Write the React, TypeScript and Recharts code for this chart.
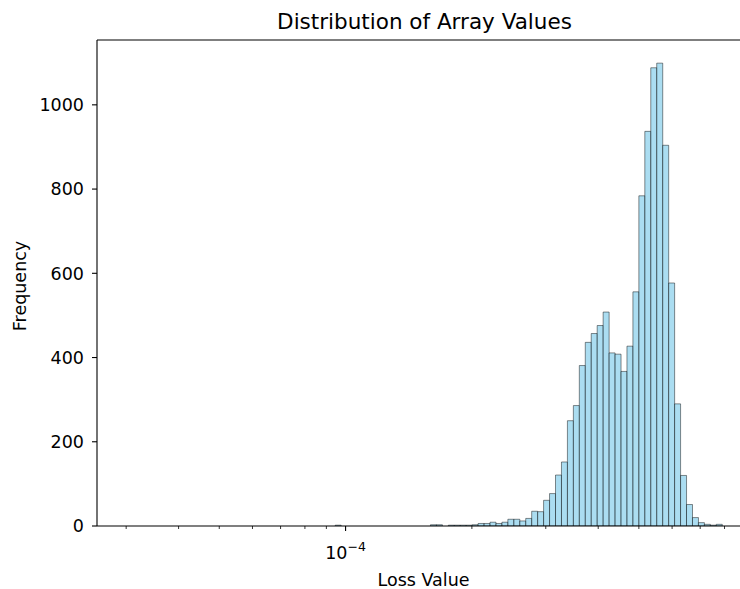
import React from "react";
import { BarChart, Bar, XAxis, YAxis, ReferenceLine } from "recharts";

// histogram counts, 100 log-spaced bins
const COUNTS = [
  0, 0, 0, 0, 0, 0, 0, 0, 0, 0,
  0, 0, 0, 0, 0, 0, 0, 0, 0, 0,
  0, 0, 0, 0, 0, 0, 0, 0, 0, 0,
  0, 0, 0, 0, 0, 2, 0, 0, 0, 0,
  0, 0, 0, 0, 0, 0, 0, 0, 0, 0,
  0, 3, 3, 0, 2, 2, 2, 2, 3, 6,
  6, 9, 6, 9, 16, 16, 12, 18, 35, 34,
  61, 77, 121, 152, 250, 286, 381, 436, 457, 476,
  508, 411, 408, 367, 427, 556, 784, 937, 1088, 1099,
  904, 577, 290, 120, 51, 20, 8, 4, 2, 4,
];
const BIN_LO = 3.01e-5;
const BIN_HI = 7.9e-4;

const X_TICKS = [3e-5, 4e-5, 5e-5, 6e-5, 7e-5, 8e-5, 9e-5, 1e-4, 2e-4, 3e-4, 4e-4, 5e-4, 6e-4, 7e-4, 8e-4];
const MAJOR_TICKS = [1e-4];
const Y_TICKS = [0, 200, 400, 600, 800, 1000];

const FONT = "DejaVu Sans, sans-serif";
const FS = 17.5;

const logLo = Math.log10(BIN_LO);
const logHi = Math.log10(BIN_HI);
const step = (logHi - logLo) / COUNTS.length;
const data = COUNTS.map((count, i) => ({ lx: logLo + (i + 0.5) * step, count }));
const pad = 0.05 * (logHi - logLo);
const yMax = Math.max(...COUNTS) * 1.05;

const XTick = (props: any) => {
  const { x, y, payload } = props;
  const v = payload.value;
  const major = MAJOR_TICKS.some((m) => Math.abs(Math.log10(m) - v) < 1e-6);
  return (
    <g>
      <line
        x1={x}
        x2={x}
        y1={y}
        y2={y + (major ? 5 : 3)}
        stroke="#000"
        strokeWidth={major ? 1.1 : 0.8}
      />
      {major && (
        <text x={x} y={y + 33} textAnchor="middle" fontFamily={FONT} fontSize={FS} fill="#000">
          <tspan>10</tspan>
          <tspan dy={-8} fontSize={12.5}>−{Math.abs(Math.round(v))}</tspan>
        </text>
      )}
    </g>
  );
};

export default function App() {
  return (
    <div style={{ position: "fixed", left: 0, top: 0, width: 740, height: 589, overflow: "hidden", background: "#fff" }}>
      <BarChart
        width={768}
        height={589}
        data={data}
        margin={{ top: 40, right: 16, bottom: 0, left: 0 }}
        barCategoryGap={0}
        barGap={0}
      >
        <text x={424.5} y={29} textAnchor="middle" fontFamily={FONT} fontSize={21.5} fill="#000">
          Distribution of Array Values
        </text>
        <XAxis
          type="number"
          dataKey="lx"
          domain={[logLo - pad, logHi + pad]}
          allowDataOverflow
          ticks={X_TICKS.map((t) => Math.log10(t))}
          interval={0}
          tickLine={false}
          tickSize={0}
          tickMargin={0}
          tick={<XTick />}
          height={63}
          axisLine={{ stroke: "#000", strokeWidth: 1.1 }}
          label={{
            content: () => (
              <text x={423.5} y={586} textAnchor="middle" fontFamily={FONT} fontSize={FS} fill="#000">
                Loss Value
              </text>
            ),
          }}
        />
        <YAxis
          type="number"
          domain={[0, yMax]}
          allowDataOverflow
          ticks={Y_TICKS}
          interval={0}
          width={97}
          tickSize={5}
          tickMargin={8}
          tickLine={{ stroke: "#000", strokeWidth: 1.1 }}
          axisLine={{ stroke: "#000", strokeWidth: 1.1 }}
          tick={{ fill: "#000", fontSize: FS, fontFamily: FONT }}
          label={{
            content: () => (
              <text
                x={25.5}
                y={286}
                transform="rotate(-90 25.5 286)"
                textAnchor="middle"
                fontFamily={FONT}
                fontSize={FS}
                fill="#000"
              >
                Frequency
              </text>
            ),
          }}
        />
        <ReferenceLine y={yMax} stroke="#000" strokeWidth={1.1} />
        <Bar
          dataKey="count"
          fill="#87CEEB"
          fillOpacity={0.7}
          stroke="#000"
          strokeOpacity={0.45}
          strokeWidth={1}
          isAnimationActive={false}
        />
      </BarChart>
    </div>
  );
}
